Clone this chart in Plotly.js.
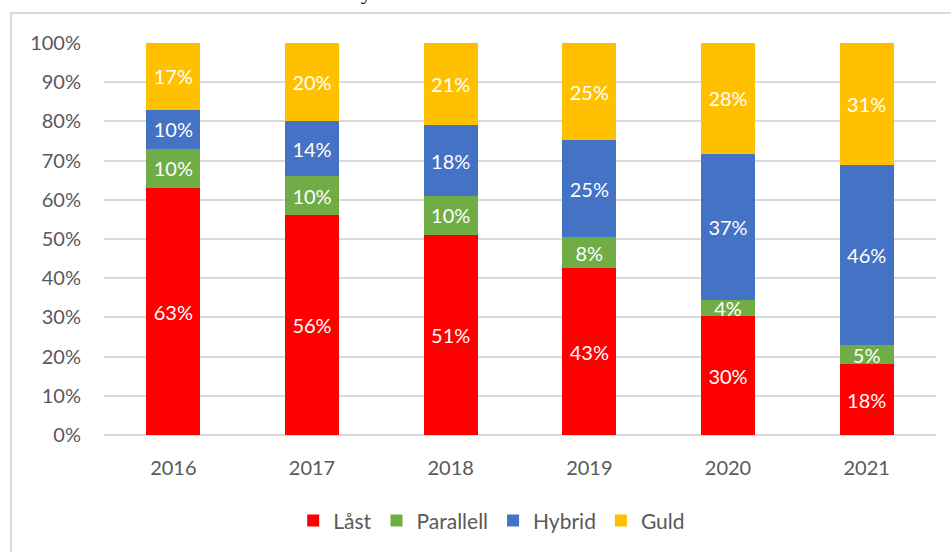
<!DOCTYPE html>
<html>
<head>
<meta charset="utf-8">
<script src="https://cdn.plot.ly/plotly-3.0.1.min.js"></script>
<style>
  html, body { margin: 0; padding: 0; background: #fff; }
  #chart { width: 951px; height: 552px; }
</style>
</head>
<body>
<div id="chart"></div>
<script>
// data (percent per year)
var years = ['2016', '2017', '2018', '2019', '2020', '2021'];
var last_vals = [63, 56, 51, 43, 30, 18];
var parallell_vals = [10, 10, 10, 8, 4, 5];
var hybrid_vals = [10, 14, 18, 25, 37, 46];
var guld_vals = [17, 20, 21, 25, 28, 31];
var y_ticks = [0, 10, 20, 30, 40, 50, 60, 70, 80, 90, 100];

var fnt = 'Lato, "Open Sans", sans-serif';

function series(name, vals, color) {
    return {
        x: years,
        y: vals,
        name: name,
        type: 'bar',
        marker: {color: color},
        text: vals.map(function (v) {return v + '%'}),
        textposition: 'inside',
        insidetextanchor: 'middle',
        constraintext: 'none',
        textfont: {color: '#ffffff', size: 20, family: fnt},
        hoverinfo: 'x+y+name'
    };
}

var data = [
    series('Låst', last_vals, '#ff0000'),
    series('Parallell', parallell_vals, '#70ad47'),
    series('Hybrid', hybrid_vals, '#4472c4'),
    series('Guld', guld_vals, '#ffc000')
];

var layout = {
    width: 951,
    height: 552,
    barmode: 'stack',
    barnorm: 'percent',
    bargap: 0.61,
    paper_bgcolor: '#ffffff',
    plot_bgcolor: '#ffffff',
    font: {family: fnt, color: '#595959', size: 20},
    margin: {l: 104, r: 15, t: 43, b: 116, pad: 0},
    showlegend: true,
    legend: {
        orientation: 'h',
        x: 0.466,
        xanchor: 'center',
        y: -0.216,
        yanchor: 'middle',
        font: {size: 21, color: '#595959'},
        traceorder: 'normal'
    },
    xaxis: {
        type: 'category',
        showgrid: false,
        showline: false,
        ticks: 'outside',
        ticklen: 15,
        tickcolor: 'rgba(0,0,0,0)',
        tickfont: {size: 20, color: '#595959'}
    },
    yaxis: {
        range: [0, 100],
        tickmode: 'array',
        tickvals: y_ticks,
        ticktext: y_ticks.map(function (v) {return v + '%'}),
        showgrid: true,
        gridcolor: '#d9d9d9',
        gridwidth: 2,
        zeroline: true,
        zerolinecolor: '#d9d9d9',
        zerolinewidth: 2,
        showline: false,
        ticks: 'outside',
        ticklen: 18,
        tickcolor: 'rgba(0,0,0,0)',
        tickfont: {size: 20, color: '#595959'}
    },
    shapes: [{
        type: 'rect',
        xref: 'paper', yref: 'paper',
        x0: -0.1118, x1: 1.2,
        y0: 1.0763, y1: -0.5,
        line: {color: '#d9d9d9', width: 2},
        fillcolor: 'rgba(0,0,0,0)',
        layer: 'below'
    }],
    annotations: [{
        // bottom of a cut-off title
        text: 'y',
        xref: 'paper', yref: 'paper',
        x: 0.316, y: 1.094,
        xanchor: 'center', yanchor: 'bottom',
        showarrow: false,
        font: {family: '"Liberation Serif", serif', size: 22, color: '#000000'}
    }]
};

Plotly.newPlot('chart', data, layout, {displayModeBar: false});
</script>
</body>
</html>
